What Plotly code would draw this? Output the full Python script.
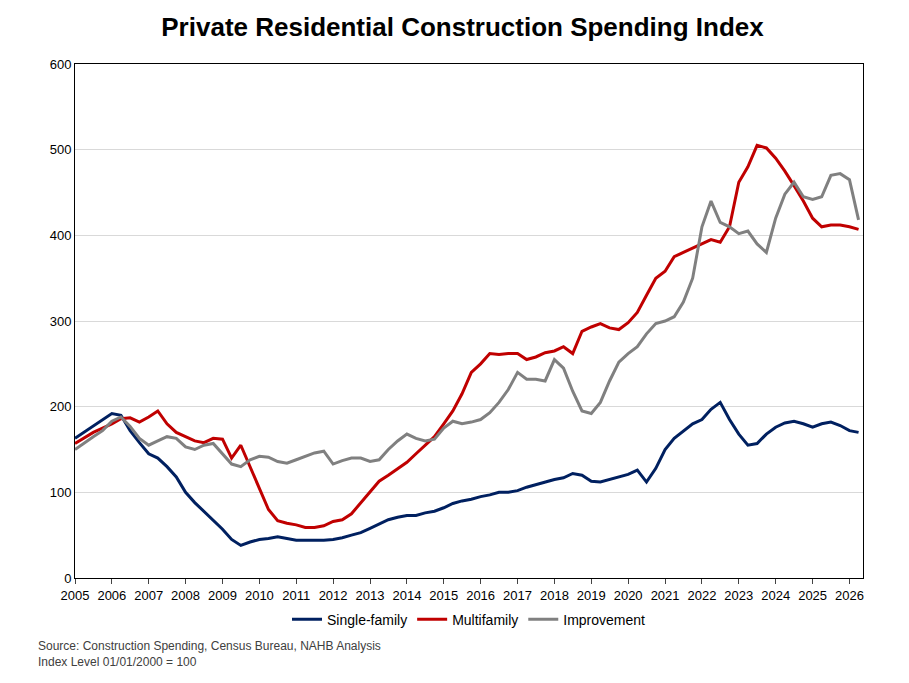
import plotly.graph_objects as go
import pandas as pd

# quarterly readings, 2005Q1 .. 2026Q2
dates = pd.date_range("2005-01-01", periods=86, freq="QS")

single_family = [
    163, 170, 178, 185, 192, 190, 172, 158, 145, 140, 130, 118,
    100, 88, 78, 67, 57, 45, 38, 42, 45, 46, 48, 46,
    44, 44, 44, 44, 45, 47, 50, 53, 58, 63, 68, 71,
    73, 73, 76, 78, 82, 87, 90, 92, 95, 97, 100, 100,
    102, 106, 109, 112, 115, 117, 122, 120, 113, 112, 115, 118,
    121, 126, 112, 128, 150, 163, 172, 180, 185, 197, 205, 185,
    168, 155, 157, 168, 176, 181, 183, 180, 176, 180, 182, 178,
    172, 170,
]
multifamily = [
    157, 163, 170, 175, 180, 186, 187, 182, 188, 195, 180, 170,
    165, 160, 158, 163, 162, 140, 155, 130, 105, 80, 67, 64,
    62, 59, 59, 61, 66, 68, 75, 88, 100, 113, 120, 128,
    135, 145, 155, 165, 180, 195, 215, 240, 250, 262, 261, 262,
    262, 255, 258, 263, 265, 270, 262, 288, 293, 297, 292, 290,
    298, 310, 330, 350, 358, 375, 380, 385, 390, 395, 392, 410,
    462, 480, 505, 502, 490, 475, 458, 440, 420, 410, 412, 412,
    410, 407,
]
improvement = [
    150, 158, 165, 172, 183, 188, 177, 163, 155, 160, 165, 163,
    153, 150, 155, 157, 145, 133, 130, 138, 142, 141, 136, 134,
    138, 142, 146, 148, 133, 137, 140, 140, 136, 138, 150, 160,
    168, 163, 160, 162, 175, 183, 180, 182, 185, 193, 205, 220,
    240, 232, 232, 230, 255, 245, 218, 195, 192, 205, 230, 252,
    262, 270, 285, 297, 300, 305, 322, 350, 410, 440, 415, 410,
    402, 405, 390, 380, 420, 448, 462, 445, 442, 445, 470, 472,
    465, 418,
]

fig = go.Figure()
for name, vals, col in [("Single-family", single_family, "#002060"),
                        ("Multifamily", multifamily, "#C00000"),
                        ("Improvement", improvement, "#808080")]:
    fig.add_trace(go.Scatter(x=dates, y=vals, name=name, mode="lines",
                             line=dict(color=col, width=3)))

fig.update_layout(
    width=909, height=683, plot_bgcolor="white", paper_bgcolor="white",
    font=dict(family="Liberation Sans, Arial", size=13, color="black"),
    title=dict(text="<b>Private Residential Construction Spending Index</b>",
               x=0.5, y=0.985, yanchor="top", xanchor="center", font=dict(size=26)),
    margin=dict(l=67, r=54, t=56, b=113),
    legend=dict(orientation="h", x=0.5, xanchor="center", y=-0.05, yanchor="top",
                font=dict(size=14)),
    annotations=[dict(text="Source: Construction Spending, Census Bureau, NAHB Analysis<br>Index Level 01/01/2000 = 100",
                      xref="paper", yref="paper", x=-0.05, y=-0.115, xanchor="left", yanchor="top",
                      showarrow=False, align="left", font=dict(size=12, color="#404040"))],
)
fig.update_xaxes(range=["2005-01-01", "2026-05-15"], dtick="M12", tickformat="%Y",
                 showgrid=False, showline=True, linecolor="black", mirror=True,
                 ticks="outside", ticklen=5, tickfont=dict(size=13))
fig.update_yaxes(range=[0, 600], dtick=100, gridcolor="#D9D9D9",
                 showline=True, linecolor="black", mirror=True, tickfont=dict(size=13))

fig.write_html("out.html")
